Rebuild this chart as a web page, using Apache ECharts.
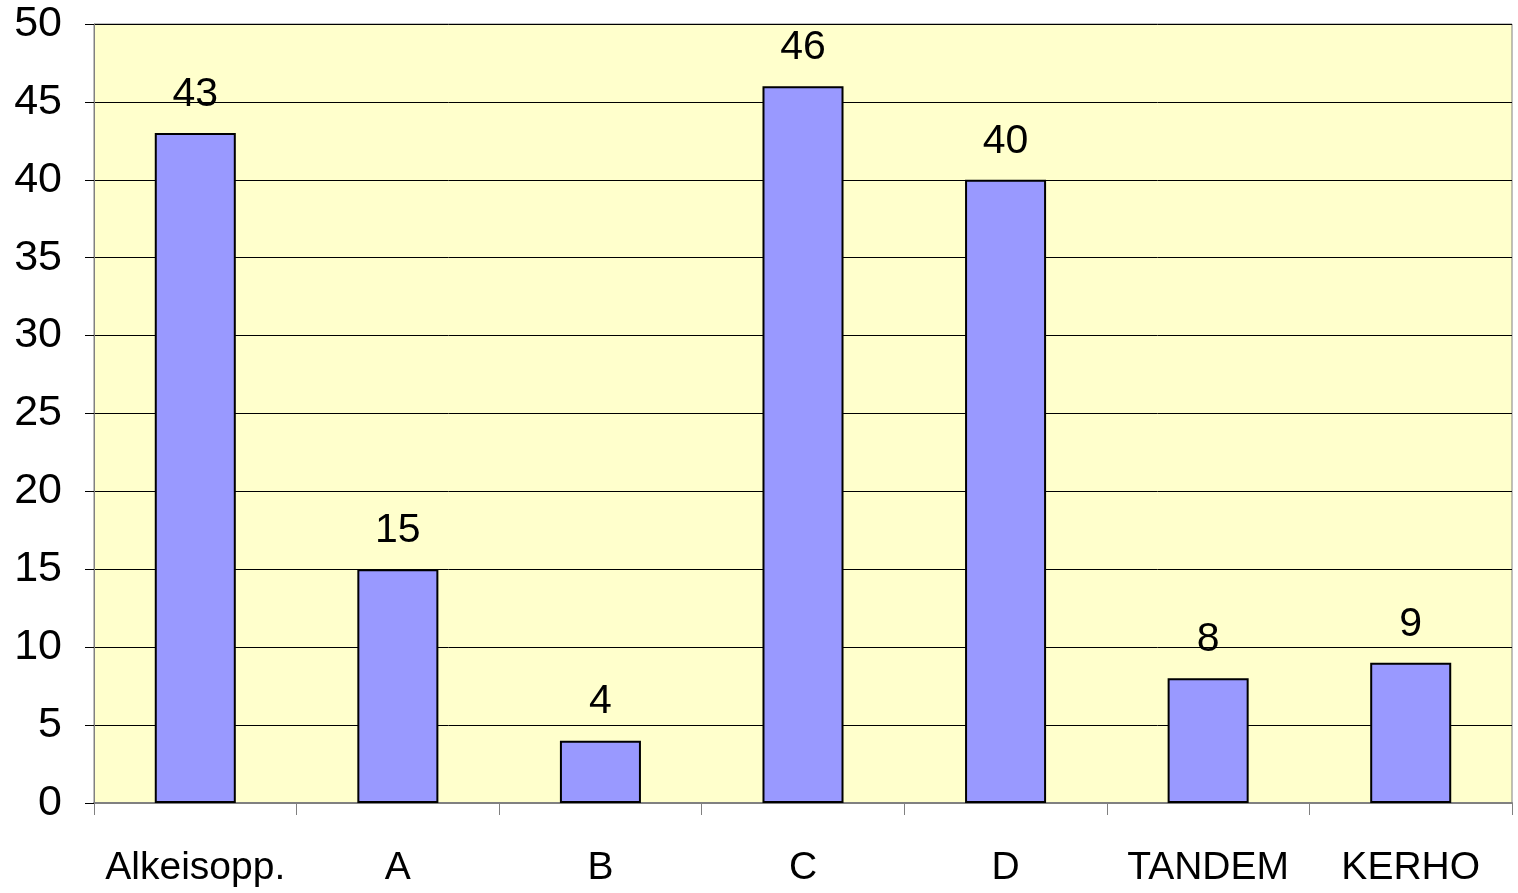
<!DOCTYPE html>
<html>
<head>
<meta charset="utf-8">
<title>Chart</title>
<script src="https://cdn.jsdelivr.net/npm/echarts@6/dist/echarts.min.js"></script>
<style>
  html, body { margin: 0; padding: 0; background: #fff; }
  #chart { width: 1518px; height: 893px; }
</style>
</head>
<body>
<div id="chart"></div>
<script>
const categories = ['Alkeisopp.', 'A', 'B', 'C', 'D', 'TANDEM', 'KERHO'];
const values = [43, 15, 4, 46, 40, 8, 9];

const chart = echarts.init(document.getElementById('chart'));
chart.setOption({
  animation: false,
  textStyle: { fontFamily: 'Liberation Sans, Arial, sans-serif' },
  grid: {
    left: 94,
    right: 6,
    top: 24,
    bottom: 90,
    show: true,
    backgroundColor: '#ffffcc',
    borderColor: '#808080',
    borderWidth: 1
  },
  xAxis: {
    type: 'category',
    data: categories,
    axisLine: { lineStyle: { color: '#808080', width: 2 } },
    axisTick: { show: true, length: 12, lineStyle: { color: '#808080', width: 1 } },
    axisLabel: { color: '#000', fontSize: 39, margin: 46, interval: 0 }
  },
  yAxis: {
    type: 'value',
    min: 0,
    max: 50,
    interval: 5,
    axisLine: { show: true, lineStyle: { color: '#808080', width: 1 } },
    axisTick: { show: true, length: 9, lineStyle: { color: '#000' } },
    axisLabel: { color: '#000', fontSize: 43, margin: 32 },
    splitLine: { lineStyle: { color: '#000', width: 1 } }
  },
  series: [{
    type: 'bar',
    data: values,
    barWidth: '40%',
    itemStyle: { color: '#9999ff', borderColor: '#000', borderWidth: 2 },
    label: { show: true, position: 'top', distance: 18, color: '#000', fontSize: 41 }
  }]
});
</script>
</body>
</html>
